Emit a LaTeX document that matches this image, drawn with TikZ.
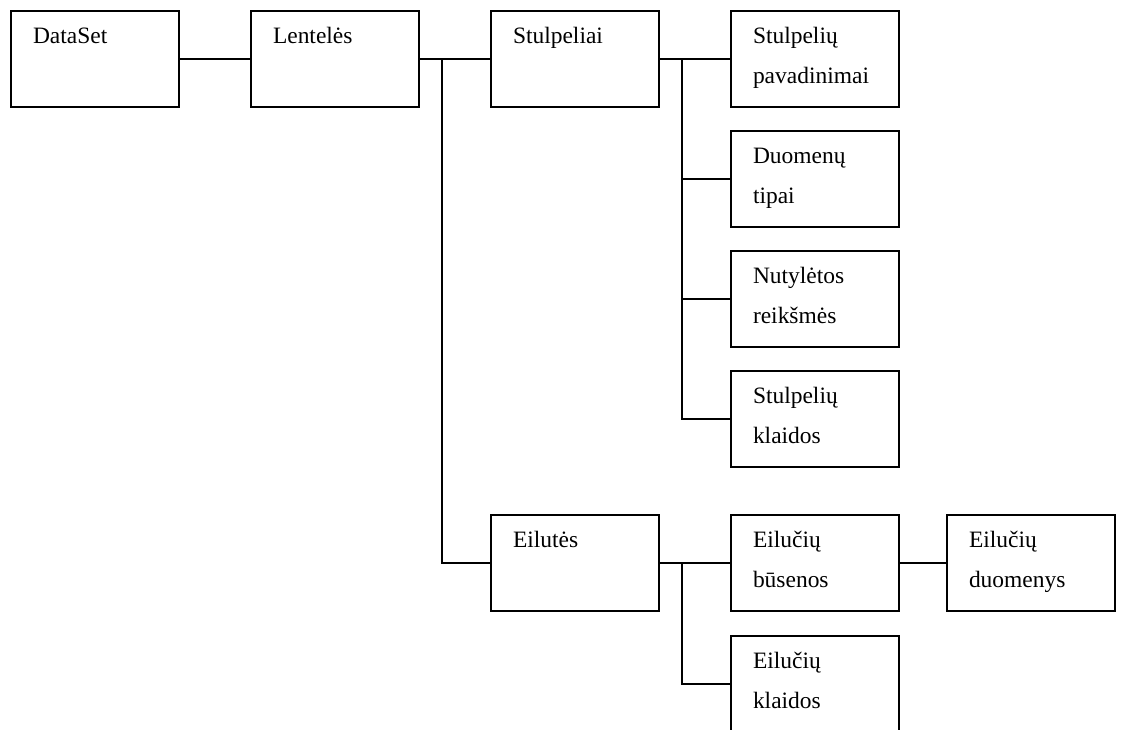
\documentclass[tikz,border=0pt]{standalone}
\usepackage{fontspec}
\setmainfont{Liberation Serif}
\newcommand\cellcaption[1]{\parbox[t]{120pt}{\raggedright #1}}
\begin{document}
\begin{tikzpicture}[x=0.75pt,y=-0.75pt,
  line width=1.5pt,
  itembox/.style={draw, line width=1.5pt, rectangle, anchor=north west,
    minimum width=126pt, minimum height=72pt, inner sep=0pt,
    label={[anchor=base west, inner sep=0pt, xshift=16.5pt, yshift=-24.75pt,
      font=\fontsize{17.6pt}{30pt}\selectfont]north west:\cellcaption{#1}}},
  wire/.style={draw, line width=1.5pt}]
  \useasboundingbox (0,0) rectangle (1122,729);
  \clip (0,0) rectangle (1122,729);

  % top row
  \node[itembox={DataSet}] (ds) at (10,10) {};
  \node[itembox={Lentelės}] (tbl) at (250,10) {};
  \node[itembox={Stulpeliai}] (cols) at (490,10) {};
  \node[itembox={Stulpelių\\pavadinimai}] (cnames) at (730,10) {};

  % column details
  \node[itembox={Duomenų\\tipai}] (ctypes) at (730,130) {};
  \node[itembox={Nutylėtos\\reikšmės}] (cdef) at (730,250) {};
  \node[itembox={Stulpelių\\klaidos}] (cerr) at (730,370) {};

  % rows branch
  \node[itembox={Eilutės}] (rows) at (490,514) {};
  \node[itembox={Eilučių\\būsenos}] (rstate) at (730,514) {};
  \node[itembox={Eilučių\\duomenys}] (rdata) at (946,514) {};
  \node[itembox={Eilučių\\klaidos}] (rerr) at (730,635) {};

  % junction points of the branching lines
  \coordinate (jt) at (442,58);
  \coordinate (jc) at (682,58);
  \coordinate (jr) at (682,562);

  \draw[wire] (ds.east) -- (tbl.west);
  \draw[wire] (tbl.east) -- (cols.west);
  \draw[wire] (jt) |- (rows.west);

  \draw[wire] (cols.east) -- (cnames.west);
  \draw[wire] (jc) |- (cerr.west);
  \draw[wire] (jc) |- (ctypes.west);
  \draw[wire] (jc) |- (cdef.west);

  \draw[wire] (rows.east) -- (rstate.west);
  \draw[wire] (jr) |- (rerr.west);
  \draw[wire] (rstate.east) -- (rdata.west);
\end{tikzpicture}
\end{document}
